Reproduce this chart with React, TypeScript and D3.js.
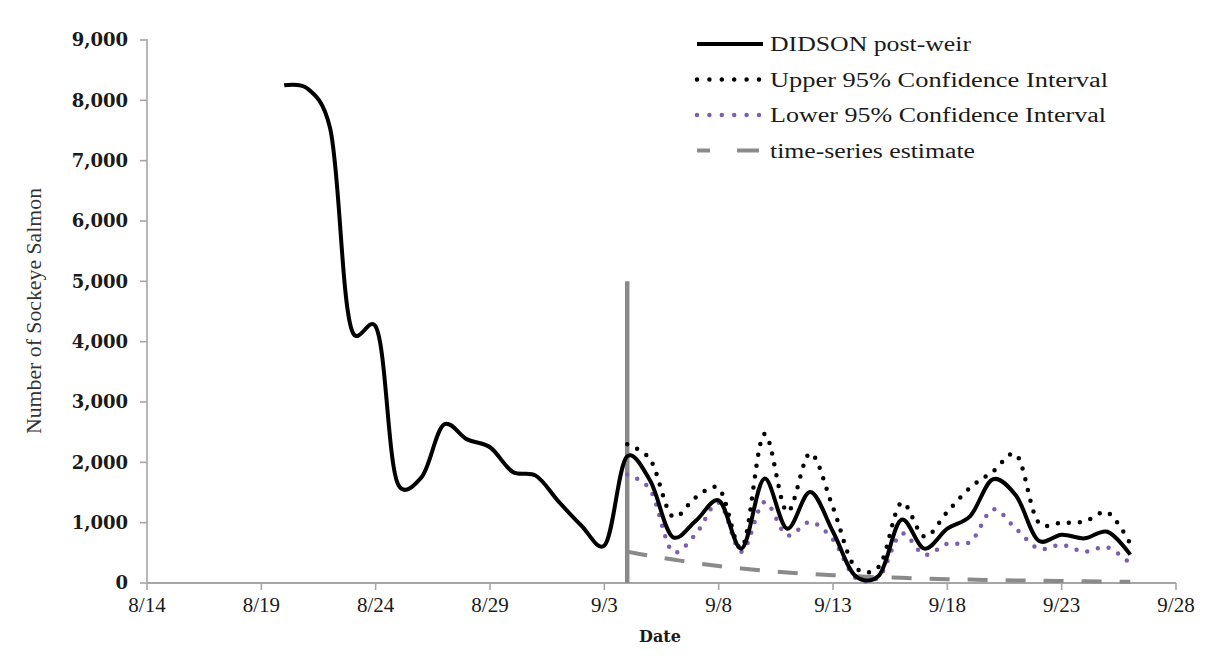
import React from "react";
import * as d3 from "d3";

// ---- data -------------------------------------------------------------
const parseDay = d3.utcParse("%m/%d");

const xTickLabels = ["8/14", "8/19", "8/24", "8/29", "9/3", "9/8", "9/13", "9/18", "9/23", "9/28"];
const yTicks = [0, 1000, 2000, 3000, 4000, 5000, 6000, 7000, 8000, 9000];

// daily DIDSON post-weir counts, starting 8/20
const didsonStart = "8/20";
const didsonCounts = [
  8250, 8200, 7550, 4150, 4250, 1620, 1750, 2630, 2380, 2250, 1840, 1780, 1350, 950,
  620, 2100, 1700, 760, 1030, 1370, 570, 1730, 900, 1510, 850, 110, 120, 1050, 570,
  900, 1110, 1720, 1450, 700, 800, 740, 850, 470,
];

// confidence bounds and time-series estimate, starting 9/4
const estimateStart = "9/4";
const upper95 = [
  2300, 2050, 1100, 1420, 1570, 580, 2470, 1180, 2150, 1250, 250, 270, 1330, 770, 1180,
  1580, 1850, 2130, 1000, 1000, 1020, 1170, 650,
];
const lower95 = [
  1800, 1550, 520, 810, 1330, 520, 1340, 790, 1010, 720, 80, 100, 820, 470, 650, 680,
  1220, 900, 570, 630, 520, 590, 320,
];
const timeSeriesEstimate = [
  520, 450, 390, 330, 280, 240, 205, 175, 150, 130, 112, 97, 85, 74, 64, 56, 49, 42, 37,
  32, 28, 24, 21,
];

// vertical reference line marking the switch to the estimate period
const switchDate = "9/4";
const switchTop = 5000;

// ---- layout -----------------------------------------------------------
const W = 1207;
const H = 656;
const plot = { left: 147, right: 1176, top: 40, bottom: 583 };

const serif = "'Liberation Serif', 'Times New Roman', serif";
const wideSerif = "'DejaVu Serif', serif";
const AXIS = "#a6a6a6";
const PURPLE = "#7d5fb0";
const GRAY = "#8a8a8a";

type Pt = [Date, number];

function series(start: string, values: number[]): Pt[] {
  const d0 = parseDay(start) as Date;
  return values.map((v, i) => [d3.utcDay.offset(d0, i), v]);
}

const legendItems = [
  { label: "DIDSON post-weir", stroke: "#000", width: 4, dash: undefined as string | undefined, cap: "butt", len: 201 },
  { label: "Upper 95% Confidence Interval", stroke: "#000", width: 4.5, dash: "0 12.4", cap: "round", len: 338 },
  { label: "Lower 95% Confidence Interval", stroke: PURPLE, width: 4.5, dash: "0 12.4", cap: "round", len: 336 },
  { label: "time-series estimate", stroke: GRAY, width: 4, dash: "13 27 22 30", cap: "butt", len: 205 },
];

export default function App() {
  const x = d3
    .scaleUtc()
    .domain([parseDay(xTickLabels[0]) as Date, parseDay(xTickLabels[xTickLabels.length - 1]) as Date])
    .range([plot.left, plot.right]);
  const y = d3.scaleLinear().domain([0, 9000]).range([plot.bottom, plot.top]);

  const line = d3
    .line<Pt>()
    .x((d) => x(d[0]))
    .y((d) => y(d[1]))
    .curve(d3.curveCatmullRom.alpha(0.25));

  const didson = series(didsonStart, didsonCounts);
  const upper = series(estimateStart, upper95);
  const lower = series(estimateStart, lower95);
  const tsEst = series(estimateStart, timeSeriesEstimate);
  const switchX = x(parseDay(switchDate) as Date);
  const fmt = d3.format(",");

  return (
    <svg
      width={W}
      height={H}
      viewBox={`0 0 ${W} ${H}`}
      style={{ position: "absolute", left: 0, top: 0, background: "#fff" }}
    >
      {/* y axis */}
      <line x1={plot.left} x2={plot.left} y1={plot.top - 1} y2={plot.bottom} stroke={AXIS} strokeWidth={1.6} />
      {yTicks.map((t) => (
        <g key={t}>
          <line x1={plot.left - 7} x2={plot.left} y1={y(t)} y2={y(t)} stroke={AXIS} strokeWidth={1.6} />
          <text
            x={128}
            y={y(t)}
            dy="0.36em"
            textAnchor="end"
            fontFamily={wideSerif}
            fontWeight="bold"
            fontSize={18}
            fill="#1a1a1a"
          >
            {fmt(t)}
          </text>
        </g>
      ))}
      <text
        transform={`translate(41,311) rotate(-90)`}
        textAnchor="middle"
        fontFamily={serif}
        fontSize={21}
        fill="#333"
        textLength={246}
        lengthAdjust="spacingAndGlyphs"
      >
        Number of Sockeye Salmon
      </text>

      {/* x axis */}
      <line x1={plot.left} x2={plot.right} y1={plot.bottom} y2={plot.bottom} stroke={AXIS} strokeWidth={1.8} />
      {xTickLabels.map((lab) => {
        const px = x(parseDay(lab) as Date);
        return (
          <g key={lab}>
            <line x1={px} x2={px} y1={plot.bottom} y2={plot.bottom + 7} stroke={AXIS} strokeWidth={1.6} />
            <text
              x={px}
              y={612}
              textAnchor="middle"
              fontFamily={serif}
              fontSize={21}
              fill="#1a1a1a"
            >
              {lab}
            </text>
          </g>
        );
      })}
      <text x={660} y={642} textAnchor="middle" fontFamily={wideSerif} fontWeight="bold" fontSize={16} fill="#1a1a1a">
        Date
      </text>

      {/* switch marker */}
      <line x1={switchX} x2={switchX} y1={y(0)} y2={y(switchTop)} stroke={GRAY} strokeWidth={4.5} />

      {/* series */}
      <path d={line(tsEst) ?? ""} fill="none" stroke={GRAY} strokeWidth={4} strokeDasharray="20 18" />
      <path d={line(lower) ?? ""} fill="none" stroke={PURPLE} strokeWidth={4.5} strokeDasharray="0 11" strokeLinecap="round" />
      <path d={line(upper) ?? ""} fill="none" stroke="#000" strokeWidth={4.5} strokeDasharray="0 11" strokeLinecap="round" />
      <path d={line(didson) ?? ""} fill="none" stroke="#000" strokeWidth={4} strokeLinejoin="round" />

      {/* legend */}
      {legendItems.map((it, i) => {
        const cy = 44 + i * 35.5;
        return (
          <g key={it.label}>
            <line
              x1={697}
              x2={763}
              y1={cy}
              y2={cy}
              stroke={it.stroke}
              strokeWidth={it.width}
              strokeDasharray={it.dash}
              strokeLinecap={it.cap as "butt" | "round"}
            />
            <text
              x={770}
              y={cy}
              dy="0.35em"
              fontFamily={serif}
              fontSize={20}
              fill="#1a1a1a"
              textLength={it.len}
              lengthAdjust="spacingAndGlyphs"
            >
              {it.label}
            </text>
          </g>
        );
      })}
    </svg>
  );
}
